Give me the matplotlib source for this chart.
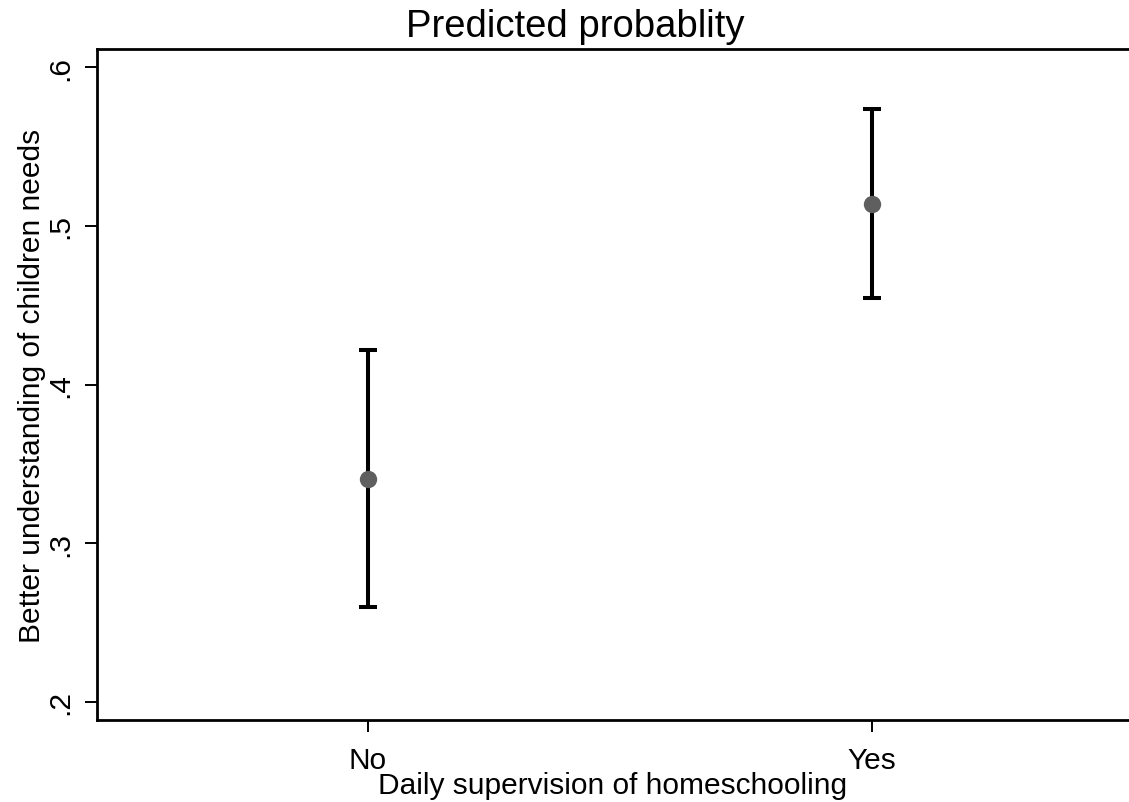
import matplotlib
matplotlib.use("Agg")
import matplotlib.pyplot as plt

categories = ["No", "Yes"]
predicted = [0.3405, 0.5136]
ci_low = [0.2598, 0.4545]
ci_high = [0.4216, 0.5736]
yticks = [0.2, 0.3, 0.4, 0.5, 0.6]
ytick_labels = [".2", ".3", ".4", ".5", ".6"]

plt.rcParams['font.family'] = ['Liberation Sans', 'DejaVu Sans']

fig = plt.figure(figsize=(11.29, 8.03), dpi=100)
ax = fig.add_axes([97/1129, 1 - 721/803, 1 - 97/1129, (721 - 50)/803])

x = list(range(len(categories)))
yerr = [[p - l for p, l in zip(predicted, ci_low)], [h - p for p, h in zip(predicted, ci_high)]]
ax.errorbar(x, predicted, yerr=yerr, fmt='none', ecolor='black', elinewidth=2.9,
            capsize=6.2, capthick=2.9, zorder=2)
ax.plot(x, predicted, 'o', color='#5f5f5f', markersize=12.5, markeredgewidth=0, zorder=3)

ax.set_xlim(-0.5377, 1.51)
ax.set_ylim(0.18866, 0.61134)
ax.set_xticks(x)
ax.set_xticklabels(categories, fontsize=21.5)
ax.set_yticks(yticks)
ax.set_yticklabels(ytick_labels, fontsize=21.5, rotation=90, va='center')
ax.tick_params(axis='both', length=8.5, width=1.4, color='black')
ax.tick_params(axis='x', pad=10.5)
ax.tick_params(axis='y', pad=8)
for s in ['left', 'bottom', 'top']:
    ax.spines[s].set_linewidth(2.0)
ax.spines['right'].set_visible(False)

ax.set_xlabel("Daily supervision of homeschooling", fontsize=21.5, labelpad=-2.5)
ax.set_ylabel("Better understanding of children needs", fontsize=21.5, labelpad=0)
fig.text(575/1129, 1 - 27/803, "Predicted probablity", fontsize=27.5, ha='center', va='center')

fig.savefig("out.png", dpi=100)
